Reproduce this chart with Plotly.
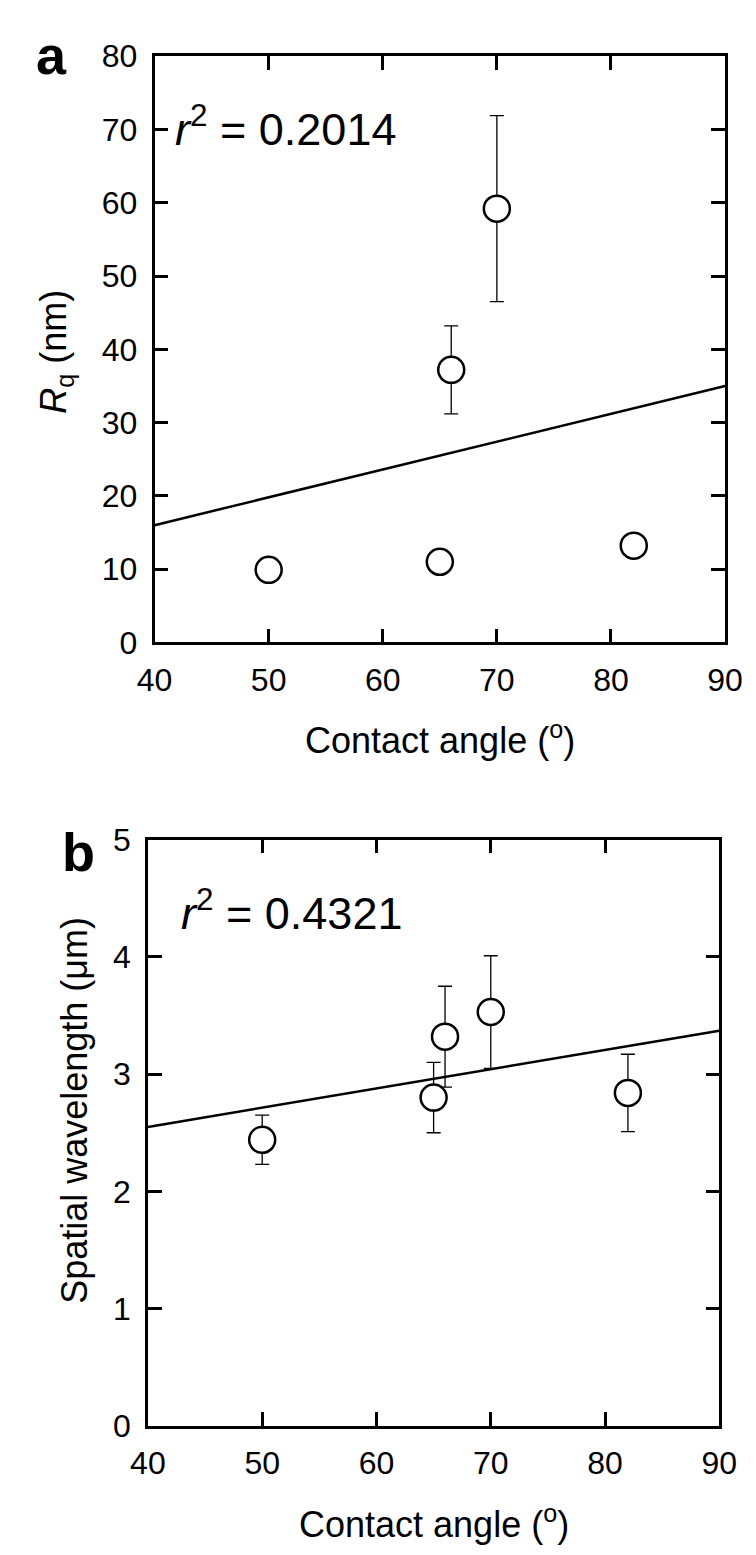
import plotly.graph_objects as go

W, H = 756, 1555

# ---- data ----
angle = [50, 65, 66, 70, 82]
rq = [9.9, 11.0, 37.2, 59.2, 13.2]
rq_err = [None, None, 6.0, 12.7, None]
rq_fit_x = [40, 90]
rq_fit_y = [16.0, 35.0]

wl = [2.44, 2.80, 3.32, 3.53, 2.84]
wl_err = [0.21, 0.30, 0.43, 0.48, 0.33]
wl_fit_x = [40, 90]
wl_fit_y = [2.55, 3.37]

x_ticks = [40, 50, 60, 70, 80, 90]
rq_ticks = [0, 10, 20, 30, 40, 50, 60, 70, 80]
wl_ticks = [0, 1, 2, 3, 4, 5]

FONT = "Liberation Sans, Arial, sans-serif"

# pixel geometry
A = dict(x0=135, x1=734, y0=31, y1=631)
B = dict(x0=128, x1=728, y0=833, y1=1433)

def px(x):
    return x / W

def py(y):
    return 1 - y / H

fig = go.Figure()

marker = dict(size=26, color="white", line=dict(color="black", width=2.5))
err_style = dict(type="data", visible=True, color="black", thickness=1.3, width=7)

fig.add_trace(go.Scatter(x=rq_fit_x, y=rq_fit_y, mode="lines",
                         line=dict(color="black", width=2.5),
                         xaxis="x", yaxis="y", showlegend=False, hoverinfo="skip"))
fig.add_trace(go.Scatter(x=angle, y=rq, mode="markers", marker=marker,
                         error_y=dict(array=rq_err, **err_style),
                         xaxis="x", yaxis="y", showlegend=False))

fig.add_trace(go.Scatter(x=wl_fit_x, y=wl_fit_y, mode="lines",
                         line=dict(color="black", width=2.5),
                         xaxis="x2", yaxis="y2", showlegend=False, hoverinfo="skip"))
fig.add_trace(go.Scatter(x=angle, y=wl, mode="markers", marker=marker,
                         error_y=dict(array=wl_err, **err_style),
                         xaxis="x2", yaxis="y2", showlegend=False))

axis_common = dict(showline=True, linewidth=2.5, linecolor="black", mirror="ticks",
                   ticks="inside", ticklen=14, tickwidth=2.5, tickcolor="black",
                   showgrid=False, zeroline=False,
                   tickfont=dict(family=FONT, size=32, color="black"))

fig.update_layout(
    width=W, height=H,
    margin=dict(l=0, r=0, t=0, b=0),
    paper_bgcolor="white", plot_bgcolor="white",
    xaxis=dict(domain=[px(A["x0"]), px(A["x1"])], range=[40, 90], tickvals=x_ticks,
               anchor="y", ticklabelstandoff=7, **axis_common),
    yaxis=dict(domain=[py(A["y1"]), py(A["y0"])], range=[0, 80], tickvals=rq_ticks,
               anchor="x", ticklabelstandoff=8, **axis_common),
    xaxis2=dict(domain=[px(B["x0"]), px(B["x1"])], range=[40, 90], tickvals=x_ticks,
                anchor="y2", ticklabelstandoff=7, **axis_common),
    yaxis2=dict(domain=[py(B["y1"]), py(B["y0"])], range=[0, 5], tickvals=wl_ticks,
                anchor="x2", ticklabelstandoff=8, **axis_common),
)

def ann(text, x, y, size, angle=0, bold=False, xanchor="center"):
    fig.add_annotation(text=("<b>%s</b>" % text) if bold else text,
                       x=px(x), y=py(y), xref="paper", yref="paper",
                       xanchor=xanchor, yanchor="middle", showarrow=False,
                       textangle=angle,
                       font=dict(family=FONT, size=size, color="black"))

# panel labels
ann("a", 27, 30, 54, bold=True)
ann("b", 55, 846, 54, bold=True)

# r^2 texts
ann("<i>r</i><sup>2</sup> = 0.2014", 154, 102, 45, xanchor="left")
ann("<i>r</i><sup>2</sup> = 0.4321", 161, 905, 45, xanchor="left")

# axis titles
ann("Contact angle (<sup>o</sup>)", (A["x0"] + A["x1"]) / 2, 729, 36)
ann("Contact angle (<sup>o</sup>)", (B["x0"] + B["x1"]) / 2, 1531, 36)
ann("<i>R</i><sub>q</sub> (nm)", 32, 333, 36, angle=-90)
ann("Spatial wavelength (μm)", 51, 1110, 36, angle=-90)

fig.write_html("out.html")
